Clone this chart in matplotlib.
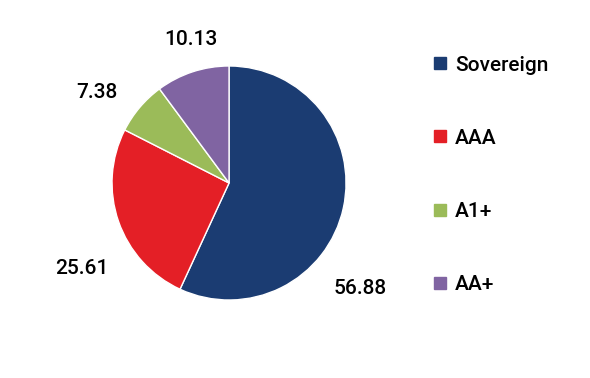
import matplotlib
matplotlib.use("Agg")
import matplotlib.pyplot as plt
from matplotlib.lines import Line2D

plt.rcParams['font.family'] = ['Roboto', 'DejaVu Sans']

categories = ["Sovereign", "AAA", "A1+", "AA+"]
values = [56.88, 25.61, 7.38, 10.13]
colors = ["#1b3c72", "#e41f26", "#9bbb59", "#8064a2"]
# label anchor points, in pie radius units
label_pos = [(1.12, -0.90), (-1.26, -0.73), (-1.13, 0.77), (-0.33, 1.23)]

fig = plt.figure(figsize=(5.9, 3.78), dpi=100)
ax = fig.add_axes([0.0907, 0.0516, 0.595, 0.9286])

ax.pie(values, colors=colors, startangle=90, counterclock=False, radius=1.0,
       wedgeprops=dict(edgecolor="white", linewidth=1))
ax.set_xlim(-1.5, 1.5)
ax.set_ylim(-1.5, 1.5)
ax.set_aspect("equal")
ax.axis("off")

for v, (x, y) in zip(values, label_pos):
    ax.text(x, y, f"{v:.2f}", ha="center", va="center", fontsize=15,
            fontweight="medium", color="black")

handles = [Line2D([], [], marker="s", linestyle="none", markersize=8,
                  markerfacecolor=c, markeredgecolor=c) for c in colors]
fig.legend(handles, categories, loc="upper left", bbox_to_anchor=(0.72, 0.875),
           frameon=False, prop=dict(size=15, weight="medium"), labelspacing=2.6,
           handlelength=0.7, handletextpad=0.35, borderaxespad=0)

fig.savefig("out.png", dpi=100)
